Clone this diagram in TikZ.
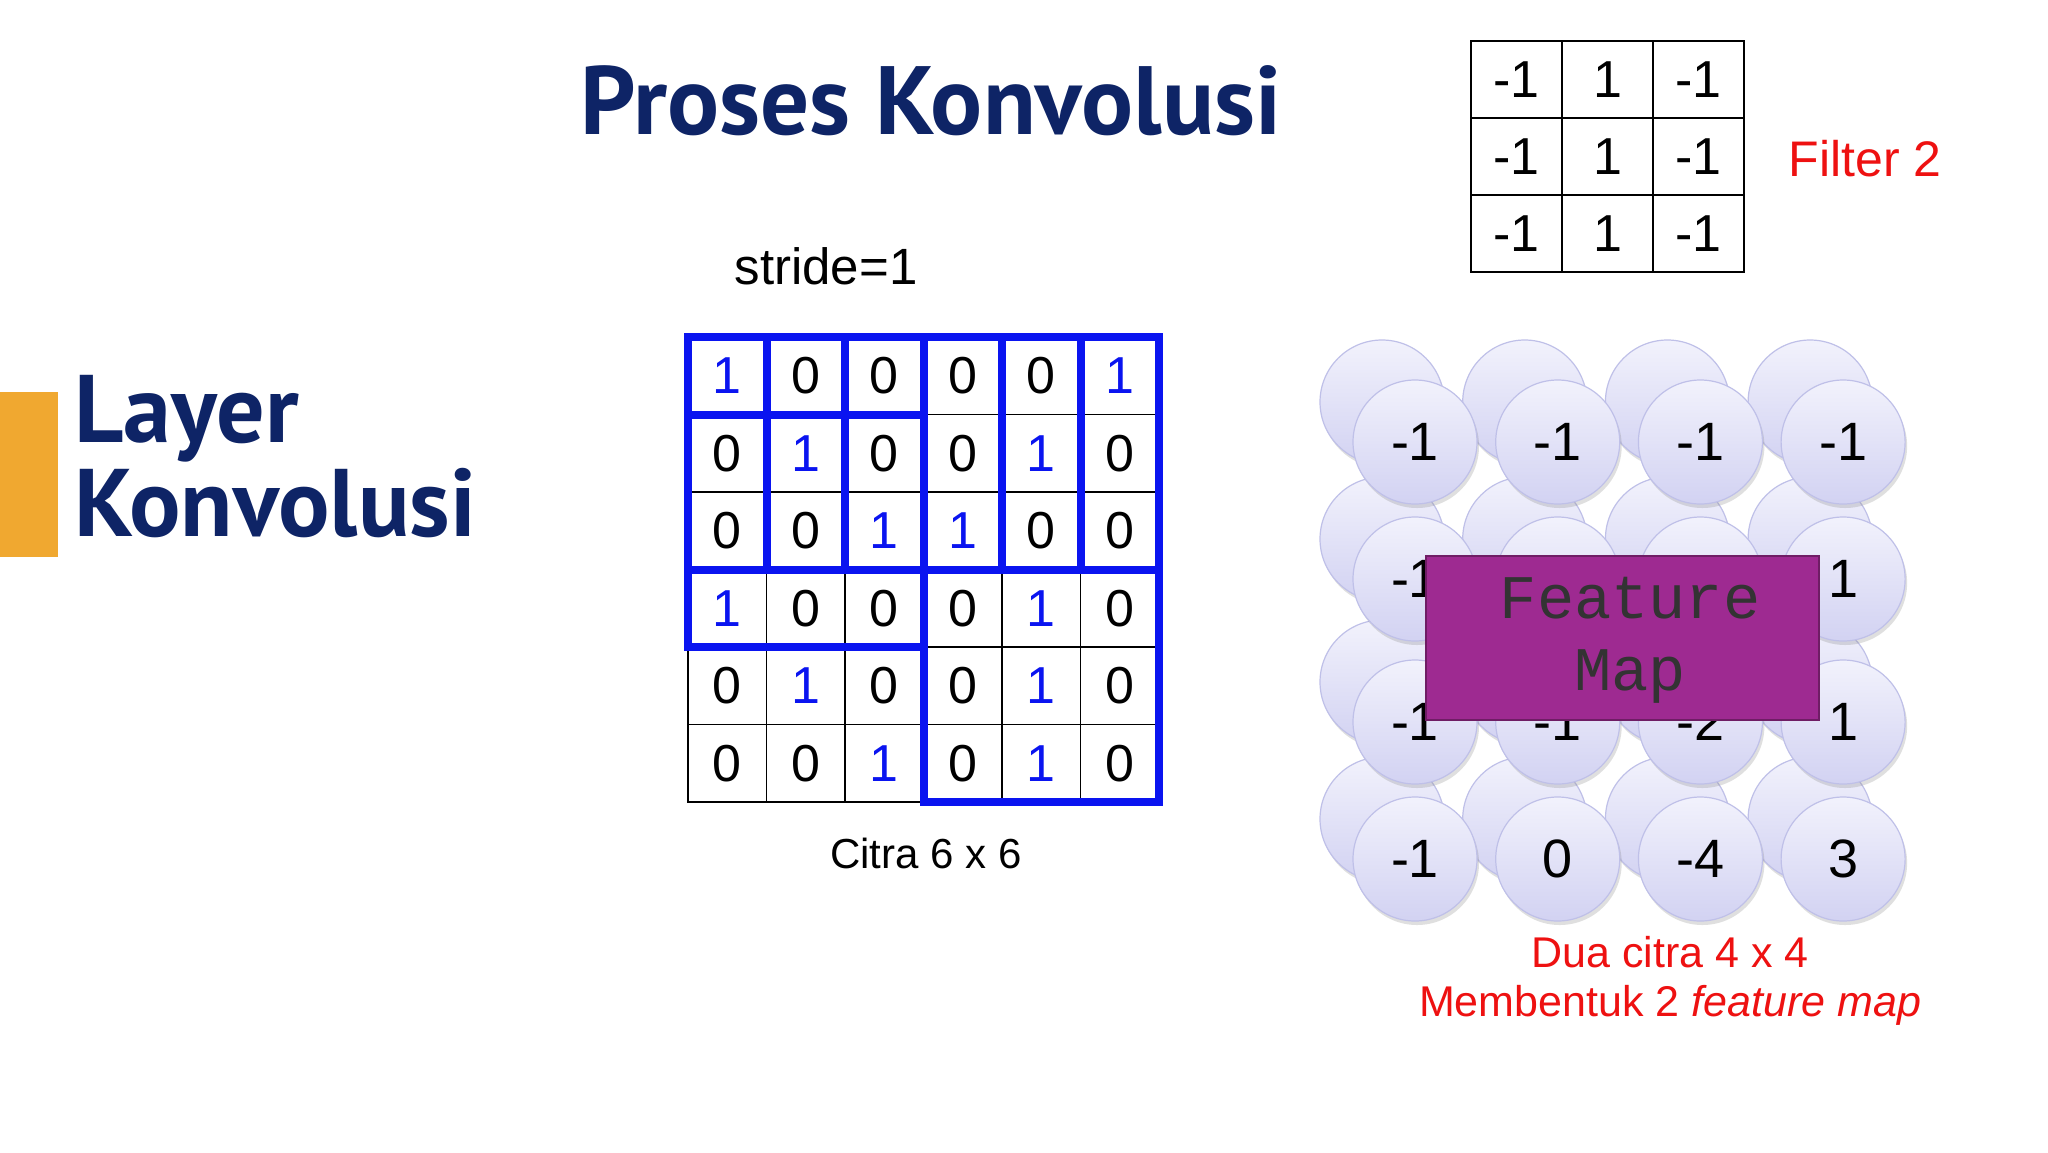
\documentclass[tikz,border=0pt]{standalone}
\usepackage{fontspec}
\setmainfont{Liberation Sans}
\newfontfamily\ttl{PT Sans}
\newfontfamily\mono{Liberation Mono}
\usetikzlibrary{shadows}
\definecolor{navy}{HTML}{0E2466}
\definecolor{orng}{HTML}{F0A830}
\definecolor{redt}{HTML}{EE1111}
\definecolor{fmap}{HTML}{9E2A91}
\definecolor{cb}{HTML}{BFC0E8}
\definecolor{ctop}{HTML}{F2F2FC}
\definecolor{cbot}{HTML}{D2D2F2}
\definecolor{blu}{HTML}{0A14F0}
\tikzset{
 cellt/.style={font=\fontsize{26pt}{26pt}\selectfont},
 bluewin/.style={draw=blu,line width=4pt},
 circ/.style={circle,minimum size=62pt,draw=cb,line width=0.6pt,top color=ctop,bottom color=cbot,drop shadow={opacity=0.25,shadow xshift=1pt,shadow yshift=-2pt},font=\fontsize{27pt}{27pt}\selectfont,inner sep=0pt},
}
\begin{document}
\begin{tikzpicture}[x=0.5pt,y=-0.5pt]
\useasboundingbox (0,0) rectangle (2048,1152);
\fill[white] (0,0) rectangle (2048,1152);
% title
\node[font=\ttl\bfseries\fontsize{48.5pt}{48pt}\selectfont,text=navy] (title) at (931,101) {Proses Konvolusi};
\fill[orng] (0,392) rectangle (58,557);
\node[font=\ttl\bfseries\fontsize{48pt}{49pt}\selectfont,text=navy,anchor=north west,align=left,inner sep=0pt] (layer) at (74,375) {Layer\\[-2pt]Konvolusi};
\node[font=\fontsize{25.5pt}{25pt}\selectfont] (stride) at (826,266) {stride=1};
% grid
\def\gx{688}\def\gy{337}\def\gw{78.5}\def\gh{77.5}
\foreach \row [count=\r from 0] in {{1,0,0,0,0,1},{0,1,0,0,1,0},{0,0,1,1,0,0},{1,0,0,0,1,0},{0,1,0,0,1,0},{0,0,1,0,1,0}}{
 \foreach \v [count=\c from 0] in \row {
  \ifnum\v=1 \def\cc{blu}\else\def\cc{black}\fi
  \node[draw=black,line width=0.7pt,minimum width=39.25pt,minimum height=38.75pt,inner sep=0pt,cellt,text=\cc] (g\r\c) at ({\gx+(\c+0.5)*\gw},{\gy+(\r+0.5)*\gh}) {\v};
 }}
\foreach \r/\c in {0/0,0/1,0/2,0/3,1/0}{
 \draw[bluewin] ({\gx+\c*\gw},{\gy+\r*\gh}) rectangle ({\gx+(\c+3)*\gw},{\gy+(\r+3)*\gh});}
\draw[bluewin] ({\gx+3*\gw},{\gy+3*\gh}) rectangle ({\gx+6*\gw},{\gy+6*\gh});
\node[font=\fontsize{21pt}{21pt}\selectfont] (citra) at (926,853) {Citra 6 x 6};
% filter
\foreach \row [count=\r from 0] in {{-1,1,-1},{-1,1,-1},{-1,1,-1}}{
 \foreach \v [count=\c from 0] in \row {
  \node[draw=black,line width=0.8pt,minimum width=45.5pt,minimum height=38.5pt,inner sep=0pt,cellt] (f\r\c) at ({1471+(\c+0.5)*91},{41+(\r+0.5)*77}) {\v};
 }}
\node[font=\fontsize{25pt}{25pt}\selectfont,text=redt] (filt) at (1865,159) {Filter 2};
% circles
\foreach \i in {0,...,15}{
 \pgfmathtruncatemacro\rr{int(\i/4)}
 \pgfmathtruncatemacro\cc{mod(\i,4)}
 \pgfmathsetmacro\cx{1415+\cc*142.7}
 \pgfmathsetmacro\cy{{442,579,722,859}[\rr]}
 \node[circ] (b\i) at (\cx-33,\cy-40) {};
}
\foreach \v [count=\i from 0] in {-1,-1,-1,-1,-1,{},{},1,-1,-1,-2,1,-1,0,-4,3}{
 \pgfmathtruncatemacro\rr{int(\i/4)}
 \pgfmathtruncatemacro\cc{mod(\i,4)}
 \pgfmathsetmacro\cx{1415+\cc*142.7}
 \pgfmathsetmacro\cy{{442,579,722,859}[\rr]}
 \node[circ] (c\i) at (\cx,\cy) {\v};
}
\node[draw=fmap!70!black,fill=fmap,line width=1pt,minimum width=196.5pt,minimum height=82pt,inner sep=0pt] (fm) at (1622,638) {};
\node[font=\mono\fontsize{31pt}{36pt}\selectfont,text=black!80,align=center] (fmt) at (1630,640) {Feature\\Map};
\node[font=\fontsize{21.5pt}{21.5pt}\selectfont,text=redt] (dua) at (1670,952) {Dua citra 4 x 4};
\node[font=\fontsize{21.5pt}{21.5pt}\selectfont,text=redt] (memb) at (1670,1005) {Membentuk 2 \textit{feature map}};
\end{tikzpicture}
\end{document}
